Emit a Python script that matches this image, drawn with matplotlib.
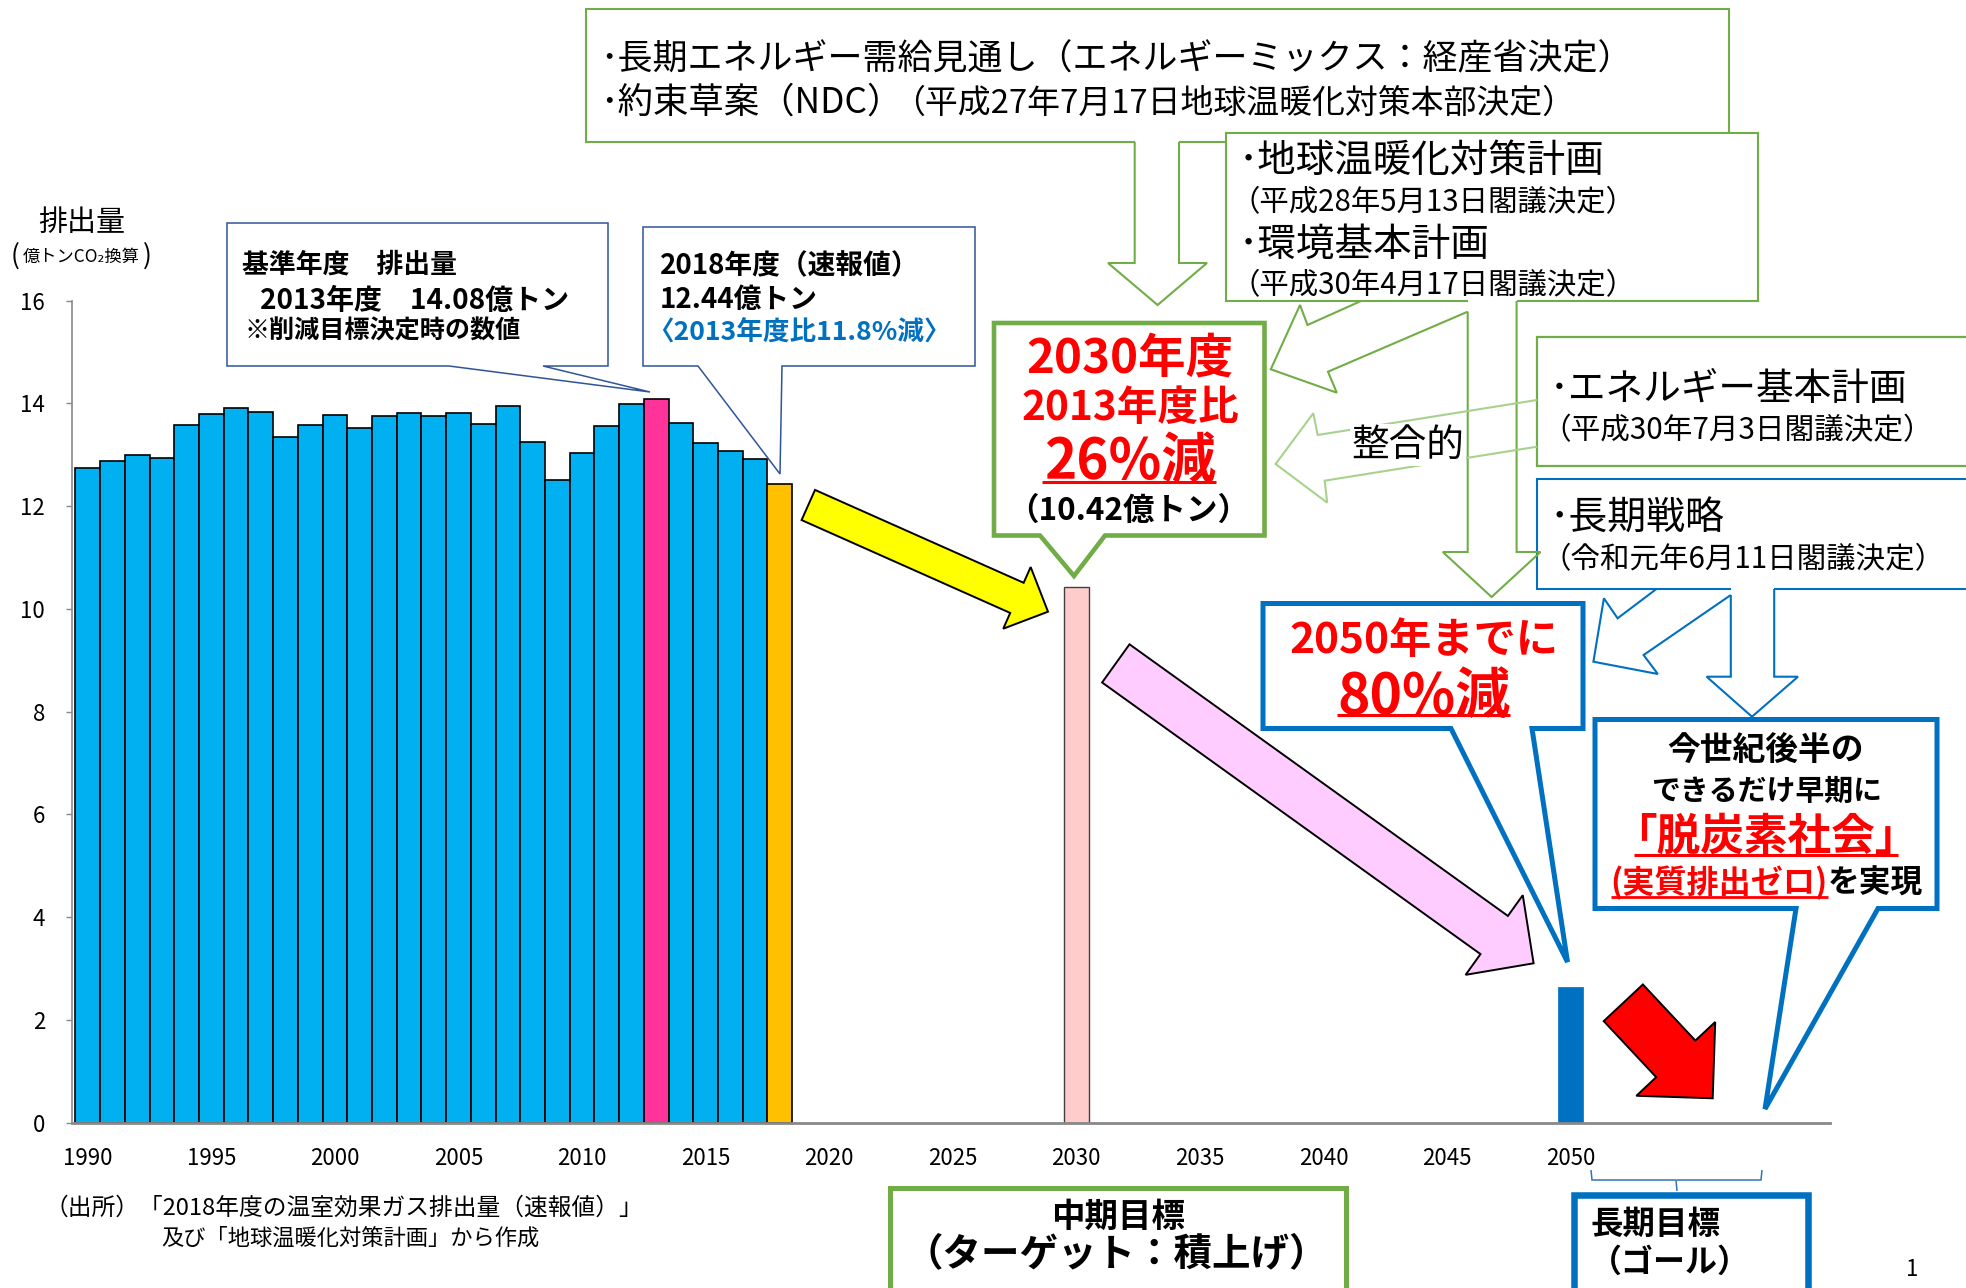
import numpy as np
import matplotlib
matplotlib.use('Agg')
import matplotlib.pyplot as plt
from matplotlib.patches import Polygon, FancyArrow

plt.rcParams['font.family'] = ['Noto Sans CJK JP', 'DejaVu Sans']

# ---------------- data ----------------
years = list(range(1990, 2019))
emissions = [12.75, 12.88, 13.00, 12.93, 13.58, 13.79, 13.91, 13.83, 13.34, 13.58,
             13.78, 13.52, 13.76, 13.82, 13.75, 13.82, 13.59, 13.95, 13.24, 12.51,
             13.04, 13.56, 13.98, 14.08, 13.61, 13.23, 13.07, 12.91, 12.44]
base_year = 2013
latest_year = 2018
target_years = [2030, 2050]
target_values = [10.42, 2.64]
xtick_years = list(range(1990, 2051, 5))
yticks = list(range(0, 17, 2))

W, H = 1966, 1288
fig = plt.figure(figsize=(W / 100, H / 100), dpi=100)
fig.patch.set_facecolor('white')

# ---------------- main chart ----------------
ax = fig.add_axes([72 / W, 1 - 1122.5 / H, (1830 - 72) / W, (1122.5 - 300.7) / H])
bar_colors = ['#FF3399' if y == base_year else '#FFC000' if y == latest_year else '#00B0F0'
              for y in years]
ax.bar(years, emissions, width=1.0, color=bar_colors, edgecolor='black', linewidth=1.2, zorder=2)
ax.bar(target_years[0], target_values[0], width=1.0, color='#FFCCCC', edgecolor='#404040',
       linewidth=1.0, zorder=2)
ax.bar(target_years[1], target_values[1], width=1.0, color='#0070C0', edgecolor='#0070C0',
       linewidth=0.5, zorder=2)
ax.set_xlim(1989.36, 2060.5)
ax.set_ylim(0, 16)
ax.set_xticks(xtick_years)
ax.set_yticks(yticks)
for s in ['top', 'right']:
    ax.spines[s].set_visible(False)
ax.spines['left'].set_color('#898989')
ax.spines['left'].set_linewidth(1.2)
ax.spines['bottom'].set_color('#898989')
ax.spines['bottom'].set_linewidth(2.0)
ax.spines['bottom'].set_zorder(3)
ax.tick_params(axis='y', length=4.3, width=1, color='#898989', pad=15.0, labelsize=16)
ax.tick_params(axis='x', length=0, pad=17.5, labelsize=16)

# ---------------- overlay (pixel coordinates) ----------------
ov = fig.add_axes([0, 0, 1, 1], facecolor='none')
ov.set_xlim(0, W)
ov.set_ylim(H, 0)
ov.axis('off')
ov.set_zorder(5)
R = fig.canvas.get_renderer()

GREEN = '#70AD47'
LGREEN = '#A9D18E'
BLUE = '#0070C0'
NAVY = '#2F5597'
RED = '#FF0000'

OPEN = '（「〈'
CLOSE = '）」〉'


def put(x, y, s, size, w=None, ha='left', color='black', weight='normal', lo=0.8, hi=1.25, **kw):
    lead = 1 if s[0] in OPEN else 0
    trail = 1 if s[-1] in CLOSE else 0
    t = ov.text(x, y, s, fontsize=size, ha=ha, va='center', color=color,
                fontweight=weight, zorder=8, **kw)
    if w:
        em0 = size * 100 / 72
        target = w + 0.5 * em0 * (lead + trail)
        bb = t.get_window_extent(renderer=R)
        f = float(np.clip(target / bb.width, lo, hi))
        size = size * f
        t.set_fontsize(size)
    em = size * 100 / 72
    dx = 0.0
    if ha == 'left':
        dx = -0.5 * em * lead
    elif ha == 'center':
        dx = 0.25 * em * (trail - lead)
    t.set_position((x + dx, y + 0.08 * em))
    return t


def poly(pts, ec, lw, fc='white', z=3):
    ov.add_patch(Polygon(pts, closed=True, fc=fc, ec=ec, lw=lw, joinstyle='miter', zorder=z))


def line(pts, color, lw, z=4):
    xs, ys = zip(*pts)
    ov.plot(xs, ys, color=color, lw=lw, solid_joinstyle='miter', solid_capstyle='butt', zorder=z)


# Box C (top green)
poly([(586, 9), (1729, 9), (1729, 142), (586, 142)], 'none', 0, z=2)
line([(1134.7, 142), (586, 142), (586, 9), (1729, 9), (1729, 142), (1179, 142)], GREEN, 1.5, z=2.1)
# green down arrow from box C
line([(1134.7, 142), (1134.7, 263), (1108, 263), (1157.6, 305), (1207, 263), (1179, 263), (1179, 142)],
     GREEN, 1.5)

# Box D
poly([(1226, 133), (1758, 133), (1758, 301), (1226, 301)], 'none', 0, z=3)
line([(1467.7, 301), (1226, 301), (1226, 133), (1758, 133), (1758, 301), (1516.6, 301)], GREEN, 1.5, z=3.1)
# green arrows from box D
line([(1361, 301), (1307.5, 325), (1300, 305), (1270.8, 369.3), (1336.8, 392.7), (1328, 371.7),
      (1467.7, 311.7)], GREEN, 1.5)
line([(1467.7, 311.7), (1467.7, 552), (1442.8, 552), (1491.6, 597), (1540.5, 552), (1516.6, 552),
      (1516.6, 301)], GREEN, 1.5)

# Box E
poly([(1537, 337), (1990, 337), (1990, 466), (1537, 466)], GREEN, 1.6, z=3)
# 整合的 arrow
line([(1537, 400), (1317.7, 435), (1313.3, 413.3), (1275.6, 464), (1327.2, 502.7), (1324.7, 480.7),
      (1537, 446.7)], LGREEN, 1.5)

# Box F
poly([(1537, 479), (1990, 479), (1990, 589), (1537, 589)], 'none', 0, z=3)
line([(1730.8, 589), (1537, 589), (1537, 479), (1990, 479)], BLUE, 1.5, z=3.1)
line([(1990, 589), (1774.2, 589)], BLUE, 1.5, z=3.1)
line([(1656.4, 589), (1617.6, 618.3), (1603.9, 598.3), (1593.4, 661.7), (1657.8, 674), (1643.6, 655),
      (1730.8, 595)], BLUE, 1.5)
line([(1730.8, 595), (1730.8, 676.7), (1706.6, 676.7), (1752, 716.7), (1798, 676.7), (1774.2, 676.7),
      (1774.2, 589)], BLUE, 1.5)

# Callout A and B
poly([(227, 223), (608, 223), (608, 366), (543, 366), (650, 392), (449, 366), (227, 366)], NAVY, 1.1)
poly([(643, 227), (975, 227), (975, 366), (782, 366), (780, 474), (698, 366), (643, 366)], NAVY, 1.1)

# Callout G (2030)
poly([(994, 323), (1264.5, 323), (1264.5, 535.5), (1105, 535.5), (1074, 576), (1040, 535.5),
      (994, 535.5)], GREEN, 3.3)
# Callout H (2050)
poly([(1263, 603.5), (1583, 603.5), (1583, 728.5), (1532, 728.5), (1567.5, 962), (1451, 728.5),
      (1263, 728.5)], BLUE, 3.6)
# Callout I
poly([(1595, 719.5), (1937, 719.5), (1937, 908.5), (1878, 908.5), (1765, 1109), (1796, 908.5),
      (1595, 908.5)], BLUE, 3.6)

# Block arrows
ov.add_patch(FancyArrow(808.3, 505, 239.7, 106.7, width=33, head_width=67.5, head_length=34,
                        length_includes_head=True, fc='#FFFF00', ec='black', lw=1.4, zorder=4))
ov.add_patch(FancyArrow(1115.8, 663.4, 417.8, 299.9, width=47, head_width=98, head_length=48.5,
                        length_includes_head=True, fc='#FFCCFF', ec='black', lw=1.4, zorder=4))
ov.add_patch(FancyArrow(1623.3, 1002.8, 89.4, 95.5, width=53.6, head_width=108, head_length=54,
                        length_includes_head=True, fc='#FF0000', ec='black', lw=1.4, zorder=4))

# Bottom boxes
poly([(890, 1187.5), (1345.5, 1187.5), (1345.5, 1300), (890, 1300)], GREEN, 3.6)
poly([(1573.5, 1194.5), (1807.5, 1194.5), (1807.5, 1300), (1573.5, 1300)], BLUE, 4.7)
# bracket
line([(1591, 1170), (1592, 1180), (1676, 1180), (1677, 1191)], '#2E75B6', 1.1)
line([(1677, 1180), (1761, 1180), (1762, 1170)], '#2E75B6', 1.1)

# ---------------- texts ----------------
# axis title
put(81.5, 221, '排出量', 21, w=87, ha='center')
put(15, 254, '(', 19, ha='center')
put(23, 256, '億トンCO₂換算', 12.5, w=117)
put(147, 254, ')', 19, ha='center')

# box A
put(242, 262.5, '基準年度　排出量', 18, w=215, weight='bold')
put(260, 299, '2013年度　14.08億トン', 18, w=309, weight='bold')
put(244, 329, '※削減目標決定時の数値', 16.5, w=276, weight='bold')
# box B
put(660, 264, '2018年度（速報値）', 18, w=247, weight='bold')
put(660, 297.5, '12.44億トン', 18, w=158, weight='bold')
put(660, 330, '〈2013年度比11.8%減〉', 17, w=280, weight='bold', color=BLUE)

# box C
put(600, 56, '･長期エネルギー需給見通し（エネルギーミックス：経産省決定）', 24, w=1017)
put(600, 100, '･約束草案（NDC）', 24, w=286)
put(909, 101, '（平成27年7月17日地球温暖化対策本部決定）', 21, w=654)
# box D
put(1239, 158, '･地球温暖化対策計画', 25, w=366)
put(1245.6, 200, '（平成28年5月13日閣議決定）', 19.5, w=379)
put(1239, 242, '･環境基本計画', 25, w=251)
put(1245.6, 283, '（平成30年4月17日閣議決定）', 19.5, w=379)
# box E
put(1550, 386, '･エネルギー基本計画', 25, w=358)
put(1556.6, 428, '（平成30年7月3日閣議決定）', 19.5, w=366)
# box F
put(1550, 516, '･長期戦略', 25, w=175)
put(1556.6, 557, '（令和元年6月11日閣議決定）', 19.5, w=376)

put(1408, 442, '整合的', 25, w=113, ha='center',
    bbox=dict(fc='white', ec='none', pad=1))

# box G
put(1130, 355, '2030年度', 31, w=207, ha='center', weight='bold', color=RED)
put(1130, 405, '2013年度比', 26, w=218, ha='center', weight='bold', color=RED)
put(1130, 457, '26%減', 35, w=172, ha='center', weight='bold', color=RED)
line([(1042, 482), (1216, 482)], RED, 2.2, z=8)
put(1128, 508, '（10.42億トン）', 20, w=214, ha='center', weight='bold')

# box H
put(1423.5, 637.5, '2050年までに', 30, w=269, ha='center', weight='bold', color=RED)
put(1423.5, 692.5, '80%減', 35, w=173, ha='center', weight='bold', color=RED)
line([(1337, 715), (1510, 715)], RED, 2.2, z=8)

# box I
put(1766, 748, '今世紀後半の', 22, w=196, ha='center', weight='bold')
put(1767, 789, 'できるだけ早期に', 22, w=231, ha='center', weight='bold')
put(1766, 833, '「脱炭素社会」', 29, w=265, ha='center', weight='bold', color=RED)
line([(1634, 855), (1898, 855)], RED, 2.2, z=8)
put(1610, 881, '(実質排出ゼロ)', 22, w=217, weight='bold', color=RED)
put(1828, 881, 'を実現', 22, w=95, weight='bold')
line([(1611, 897), (1828, 897)], RED, 2.0, z=8)

# bottom boxes
put(1118, 1215, '中期目標', 23, w=134, ha='center', weight='bold')
put(1116, 1251, '（ターゲット：積上げ）', 25, w=389, ha='center', weight='bold')
put(1655, 1222, '長期目標', 23, w=130, ha='center', weight='bold')
put(1670, 1260, '（ゴール）', 23, ha='center', weight='bold')

# source
put(56, 1206, '（出所）「2018年度の温室効果ガス排出量（速報値）」', 16, w=577)
put(350, 1236, '及び「地球温暖化対策計画」から作成', 16, w=379, ha='center')

put(1912, 1268, '1', 16, ha='center')

fig.savefig('out.png', dpi=100, facecolor='white')
